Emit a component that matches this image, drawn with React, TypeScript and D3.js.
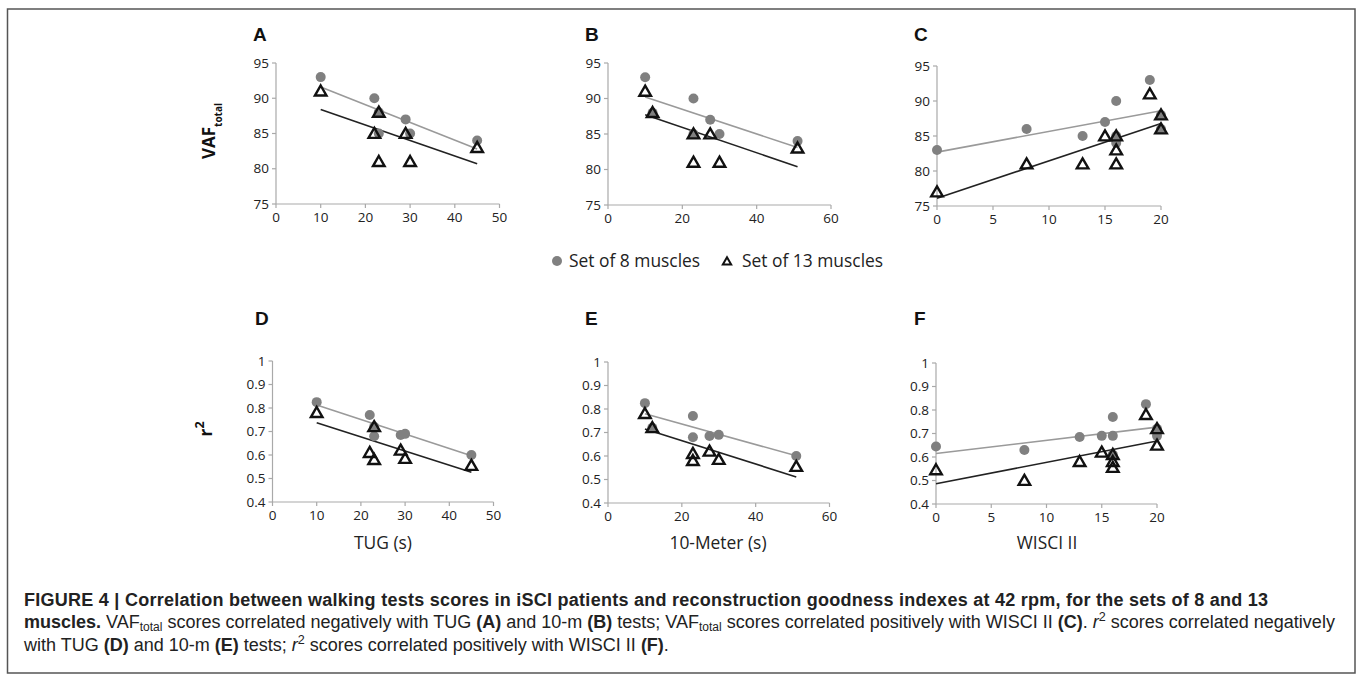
import React from "react";
import * as d3 from "d3";

// ---- data ----
const tugX = [10, 22, 23, 23, 29, 30, 45];
const meterX = [10, 12, 23, 23, 27.5, 30, 51];
const wisciX = [0, 8, 13, 15, 16, 16, 16, 19, 20, 20];

const vafTug8 = [93, 90, 88, 85, 87, 85, 84];
const vafTug13 = [91, 85, 88, 81, 85, 81, 83];
const vafMeter8 = [93, 88, 90, 85, 87, 85, 84];
const vafMeter13 = [91, 88, 85, 81, 85, 81, 83];
const vafWisci8 = [83, 86, 85, 87, 90, 84, 85, 93, 88, 86];
const vafWisci13 = [77, 81, 81, 85, 85, 83, 81, 91, 88, 86];

const r2Tug8 = [0.825, 0.77, 0.72, 0.68, 0.685, 0.69, 0.6];
const r2Tug13 = [0.78, 0.61, 0.72, 0.58, 0.62, 0.585, 0.555];
const r2Meter8 = [0.825, 0.72, 0.77, 0.68, 0.685, 0.69, 0.6];
const r2Meter13 = [0.78, 0.72, 0.61, 0.58, 0.62, 0.585, 0.555];
const r2Wisci8 = [0.645, 0.63, 0.685, 0.69, 0.77, 0.69, 0.61, 0.825, 0.69, 0.72];
const r2Wisci13 = [0.545, 0.5, 0.58, 0.62, 0.61, 0.58, 0.555, 0.78, 0.72, 0.65];

// trend lines: [x start, y start, x end, y end]
const fitA8 = [10, 91.6, 45, 82.8];
const fitA13 = [10, 88.4, 45, 80.7];
const fitB8 = [10, 90.2, 51, 83.1];
const fitB13 = [10, 87.7, 51, 80.4];
const fitC8 = [0, 82.7, 20, 88.6];
const fitC13 = [0, 76.1, 20, 86.8];
const fitD8 = [10, 0.813, 45, 0.597];
const fitD13 = [10, 0.737, 45, 0.527];
const fitE8 = [10, 0.78, 51, 0.601];
const fitE13 = [10, 0.715, 51, 0.511];
const fitF8 = [0, 0.615, 20, 0.727];
const fitF13 = [0, 0.486, 20, 0.668];

const vafDomain = [75, 95];
const r2Domain = [0.4, 1];
const tugTicks = [0, 10, 20, 30, 40, 50];
const meterTicks = [0, 20, 40, 60];
const wisciTicks = [0, 5, 10, 15, 20];
const vafTicks = [75, 80, 85, 90, 95];
const r2Ticks = [0.4, 0.5, 0.6, 0.7, 0.8, 0.9, 1];

const panels = [
  { id: "A", xs: tugX, y8: vafTug8, y13: vafTug13, f8: fitA8, f13: fitA13, xt: tugTicks, yt: vafTicks, yd: vafDomain, box: [276, 499.5, 63, 204] },
  { id: "B", xs: meterX, y8: vafMeter8, y13: vafMeter13, f8: fitB8, f13: fitB13, xt: meterTicks, yt: vafTicks, yd: vafDomain, box: [608, 831, 63, 205] },
  { id: "C", xs: wisciX, y8: vafWisci8, y13: vafWisci13, f8: fitC8, f13: fitC13, xt: wisciTicks, yt: vafTicks, yd: vafDomain, box: [937, 1161, 66, 206] },
  { id: "D", xs: tugX, y8: r2Tug8, y13: r2Tug13, f8: fitD8, f13: fitD13, xt: tugTicks, yt: r2Ticks, yd: r2Domain, box: [272.5, 493.5, 361, 502] },
  { id: "E", xs: meterX, y8: r2Meter8, y13: r2Meter13, f8: fitE8, f13: fitE13, xt: meterTicks, yt: r2Ticks, yd: r2Domain, box: [608, 829.5, 362, 503] },
  { id: "F", xs: wisciX, y8: r2Wisci8, y13: r2Wisci13, f8: fitF8, f13: fitF13, xt: wisciTicks, yt: r2Ticks, yd: r2Domain, box: [936, 1157, 363, 504] },
];

const letterPos = { A: [253, 41], B: [585, 41], C: [914, 41], D: [255, 325], E: [585, 325], F: [914, 325] };

const tickFont = "'Open Sans', sans-serif";
const capFont = "'Liberation Sans', Arial, sans-serif";
const axisColor = "#a9a9a9";
const grayDot = "#808080";

const tri = d3.symbol(d3.symbolTriangle, 58)();

function Panel({ p }: { p: any }) {
  const [x0, x1, yTop, yBot] = p.box;
  const x = d3.scaleLinear().domain([p.xt[0], p.xt[p.xt.length - 1]]).range([x0, x1]);
  const y = d3.scaleLinear().domain(p.yd).range([yBot, yTop]);
  const line = d3.line<number[]>().x((d) => x(d[0])).y((d) => y(d[1]));
  const fmt = (v: number) => (p.yd[1] === 1 ? (v === 1 ? "1" : v.toFixed(1)) : String(v));
  const [lx, ly] = (letterPos as any)[p.id];
  return (
    <g>
      <text x={lx} y={ly} fontFamily={capFont} fontWeight="bold" fontSize={19} fill="#111">{p.id}</text>
      <line x1={x0} x2={x0} y1={yTop} y2={yBot} stroke={axisColor} strokeWidth={1.2} />
      <line x1={x0} x2={x1} y1={yBot} y2={yBot} stroke={axisColor} strokeWidth={1.2} />
      {p.yt.map((t: number) => (
        <g key={"y" + t}>
          <line x1={x0 - 4} x2={x0} y1={y(t)} y2={y(t)} stroke={axisColor} strokeWidth={1.2} />
          <text x={x0 - 7} y={y(t)} dy="0.35em" textAnchor="end" fontFamily={tickFont} fontSize={13.5} fill="#222">{fmt(t)}</text>
        </g>
      ))}
      {p.xt.map((t: number) => (
        <g key={"x" + t}>
          <line x1={x(t)} x2={x(t)} y1={yBot} y2={yBot + 4} stroke={axisColor} strokeWidth={1.2} />
          <text x={x(t)} y={yBot + 18} textAnchor="middle" fontFamily={tickFont} fontSize={13.5} fill="#222">{t}</text>
        </g>
      ))}
      <path d={line([[p.f8[0], p.f8[1]], [p.f8[2], p.f8[3]]]) || ""} stroke="#9a9a9a" strokeWidth={1.6} fill="none" />
      <path d={line([[p.f13[0], p.f13[1]], [p.f13[2], p.f13[3]]]) || ""} stroke="#222" strokeWidth={1.6} fill="none" />
      {p.y8.map((v: number, i: number) => (
        <circle key={"c" + i} cx={x(p.xs[i])} cy={y(v)} r={5} fill={grayDot} />
      ))}
      {p.y13.map((v: number, i: number) => (
        <path key={"t" + i} d={tri || ""} transform={`translate(${x(p.xs[i])},${y(v) + 1})`} fill="none" stroke="#111" strokeWidth={2.4} />
      ))}
    </g>
  );
}

export default function App() {
  const sub = { baselineShift: "-2.5px", fontSize: "12px" } as any;
  const sup = { baselineShift: "super", fontSize: "70%" } as any;
  return (
    <div style={{ position: "absolute", left: 0, top: 0 }}>
      <svg width={1357} height={675} style={{ display: "block", background: "white" }}>
        <rect x={7.5} y={9} width={1347.5} height={664} fill="none" stroke="#555" strokeWidth={1.5} />
        {panels.map((p) => (
          <Panel key={p.id} p={p} />
        ))}
        {/* y titles */}
        <text transform="translate(215,131) rotate(-90)" textAnchor="middle" fontFamily={tickFont} fontWeight="bold" fontSize={17} fill="#111">
          VAF<tspan baselineShift="sub" fontSize={10}>total</tspan>
        </text>
        <text transform="translate(212,429) rotate(-90)" textAnchor="middle" fontFamily={tickFont} fontWeight="bold" fontSize={18} fill="#111">
          r<tspan style={sup} fontSize={12}>2</tspan>
        </text>
        {/* x titles */}
        <text x={383} y={549} textAnchor="middle" fontFamily={tickFont} fontSize={17.4} fill="#222">TUG (s)</text>
        <text x={718} y={549} textAnchor="middle" fontFamily={tickFont} fontSize={17.4} fill="#222">10-Meter (s)</text>
        <text x={1047} y={549} textAnchor="middle" fontFamily={tickFont} fontSize={17.4} fill="#222">WISCI II</text>
        {/* legend */}
        <circle cx={557} cy={261} r={5} fill={grayDot} />
        <text x={569} y={267} fontFamily={tickFont} fontSize={17.4} fill="#222">Set of 8 muscles</text>
        <path d={d3.symbol(d3.symbolTriangle, 30)() || ""} transform="translate(727,262)" fill="none" stroke="#111" strokeWidth={2} />
        <text x={742} y={267} fontFamily={tickFont} fontSize={17.4} fill="#222">Set of 13 muscles</text>
        {/* caption */}
        <text x={24} y={606} fontFamily={capFont} fontSize={18} fill="#222" fontWeight="bold" textLength={1244} lengthAdjust="spacing">
          FIGURE 4 | Correlation between walking tests scores in iSCI patients and reconstruction goodness indexes at 42 rpm, for the sets of 8 and 13
        </text>
        <text x={24} y={628} fontFamily={capFont} fontSize={18} fill="#222">
          <tspan fontWeight="bold">muscles.</tspan> VAF<tspan style={sub}>total</tspan> scores correlated negatively with TUG <tspan fontWeight="bold">(A)</tspan> and 10-m <tspan fontWeight="bold">(B)</tspan> tests; VAF<tspan style={sub}>total</tspan> scores correlated positively with WISCI II <tspan fontWeight="bold">(C)</tspan>. <tspan fontStyle="italic">r</tspan><tspan style={sup}>2</tspan> scores correlated negatively
        </text>
        <text x={24} y={651} fontFamily={capFont} fontSize={18} fill="#222">
          with TUG <tspan fontWeight="bold">(D)</tspan> and 10-m <tspan fontWeight="bold">(E)</tspan> tests; <tspan fontStyle="italic">r</tspan><tspan style={sup}>2</tspan> scores correlated positively with WISCI II <tspan fontWeight="bold">(F)</tspan>.
        </text>
      </svg>
    </div>
  );
}
